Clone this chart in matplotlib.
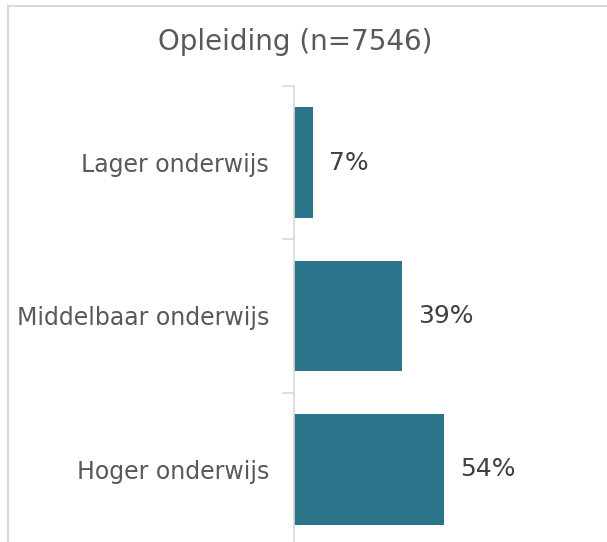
import matplotlib.pyplot as plt
from matplotlib.patches import Rectangle

categories = ["Lager onderwijs", "Middelbaar onderwijs", "Hoger onderwijs"]
values = [7, 39, 54]
labels = ["7%", "39%", "54%"]

W, H = 607, 542
fig = plt.figure(figsize=(W / 100, H / 100), dpi=100)

# chart frame border (only left and top are visible)
fig.patches.append(Rectangle((8 / W, -0.1), 1.2, (H - 6) / H + 0.1,
                             transform=fig.transFigure, fill=False,
                             edgecolor="#d9d9d9", linewidth=1.5))

ax = fig.add_axes([294 / W, -4 / H, 1 - 294 / W, (H - 86 + 4) / H])
y = list(range(len(categories)))
ax.barh(y, values, height=0.72, color="#2a7589")
ax.set_ylim(len(categories) - 0.5, -0.5)
ax.set_xlim(0, 113)

for yi, v, lab in zip(y, values, labels):
    ax.text(v + 5.8, yi, lab, va="center", ha="left", fontsize=18, color="#404040")

ax.set_yticks(y)
ax.set_yticklabels(categories, fontsize=17, color="#595959")
ax.set_yticks([-0.5, 0.5, 1.5, 2.5], minor=True)
ax.tick_params(axis="y", which="major", length=0, pad=18)
ax.tick_params(axis="y", which="minor", length=9, color="#d9d9d9", width=1.2)
ax.set_xticks([])
for s in ["top", "right", "bottom"]:
    ax.spines[s].set_visible(False)
ax.spines["left"].set_color("#d9d9d9")
ax.spines["left"].set_linewidth(1.2)

fig.text(295 / W, 1 - 42 / H, "Opleiding (n=7546)", ha="center", va="center",
         fontsize=20, color="#595959")

fig.savefig("out.png", dpi=100)
